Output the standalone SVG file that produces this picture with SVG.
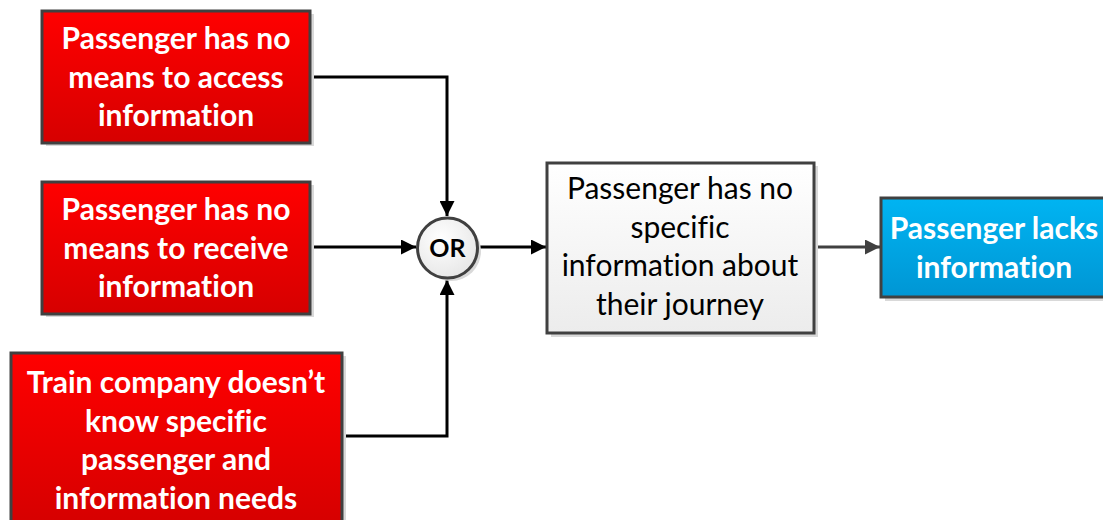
<svg xmlns="http://www.w3.org/2000/svg" width="1103" height="520" viewBox="0 0 1103 520">
<defs>
<linearGradient id="red" x1="0" y1="0" x2="0" y2="1"><stop offset="0" stop-color="#ff0000"/><stop offset="1" stop-color="#d60000"/></linearGradient>
<linearGradient id="blue" x1="0" y1="0" x2="0" y2="1"><stop offset="0" stop-color="#00b4f2"/><stop offset="1" stop-color="#0096d4"/></linearGradient>
<linearGradient id="grey" x1="0" y1="0" x2="0" y2="1"><stop offset="0" stop-color="#ffffff"/><stop offset="1" stop-color="#ececec"/></linearGradient>
<radialGradient id="circ" cx="0.4" cy="0.35" r="0.7"><stop offset="0" stop-color="#ffffff"/><stop offset="1" stop-color="#e6e6e6"/></radialGradient>
<marker id="ah" markerWidth="15" markerHeight="15" viewBox="0 0 15 15" refX="15" refY="7.5" orient="auto" markerUnits="userSpaceOnUse"><path d="M0,0 L15,7.5 L0,15 Z" fill="#000"/></marker>
<marker id="ahg" markerWidth="15" markerHeight="15" viewBox="0 0 15 15" refX="15" refY="7.5" orient="auto" markerUnits="userSpaceOnUse"><path d="M0,0 L15,7.5 L0,15 Z" fill="#404040"/></marker>
</defs>
<style>
.box{stroke:#404040;stroke-width:3}
.shadow{fill:#d9d9d9}
text{font-variant-ligatures:none;font-family:Lato,"Liberation Sans",sans-serif;text-anchor:middle}
.wt{font-weight:bold;font-size:30px;fill:#fff}
.bt{font-size:30px;fill:#000}
.ort{font-weight:bold;font-size:25px;fill:#000}
.con{fill:none;stroke:#000;stroke-width:3}
.cong{fill:none;stroke:#404040;stroke-width:3}
</style>
<rect width="1103" height="520" fill="#fff"/>
<g id="connectors">
<path class="con" d="M310,77 H447 V216" marker-end="url(#ah)"/>
<path class="con" d="M310,247 H416" marker-end="url(#ah)"/>
<path class="con" d="M342,436 H447 V280" marker-end="url(#ah)"/>
<path class="con" d="M478,247 H546" marker-end="url(#ah)"/>
<path class="cong" d="M814,247 H880" marker-end="url(#ahg)"/>
</g>
<g id="node1">
<rect class="shadow" x="46" y="14" width="268" height="132"/>
<rect class="box" x="42" y="11" width="268" height="132" fill="url(#red)"/>
<text class="wt" x="176" y="49">Passenger has no</text>
<text class="wt" x="176" y="88">means to access</text>
<text class="wt" x="176" y="126">information</text>
</g>
<g id="node2">
<rect class="shadow" x="46" y="185" width="268" height="132"/>
<rect class="box" x="42" y="182" width="268" height="132" fill="url(#red)"/>
<text class="wt" x="176" y="220">Passenger has no</text>
<text class="wt" x="176" y="259">means to receive</text>
<text class="wt" x="176" y="297">information</text>
</g>
<g id="node3">
<rect class="shadow" x="15" y="356" width="331" height="170"/>
<rect class="box" x="11" y="353" width="331" height="170" fill="url(#red)"/>
<text class="wt" x="176" y="393">Train company doesn’t</text>
<text class="wt" x="176" y="432">know specific</text>
<text class="wt" x="176" y="470">passenger and</text>
<text class="wt" x="176" y="509">information needs</text>
</g>
<g id="or">
<circle cx="451" cy="251" r="30" fill="#d9d9d9"/>
<circle cx="447.5" cy="248" r="30" fill="url(#circ)" stroke="#404040" stroke-width="3"/>
<text class="ort" x="447.5" y="257">OR</text>
</g>
<g id="node4">
<rect class="shadow" x="551" y="166" width="267" height="171"/>
<rect class="box" x="547" y="163" width="267" height="170" fill="url(#grey)"/>
<text class="bt" x="680" y="199">Passenger has no</text>
<text class="bt" x="680" y="238">specific</text>
<text class="bt" x="680" y="276">information about</text>
<text class="bt" x="680" y="315">their journey</text>
</g>
<g id="node5">
<rect class="shadow" x="885" y="201" width="230" height="100"/>
<rect class="box" x="881" y="198" width="230" height="99" fill="url(#blue)"/>
<text class="wt" x="994" y="239">Passenger lacks</text>
<text class="wt" x="994" y="278">information</text>
</g>
</svg>
